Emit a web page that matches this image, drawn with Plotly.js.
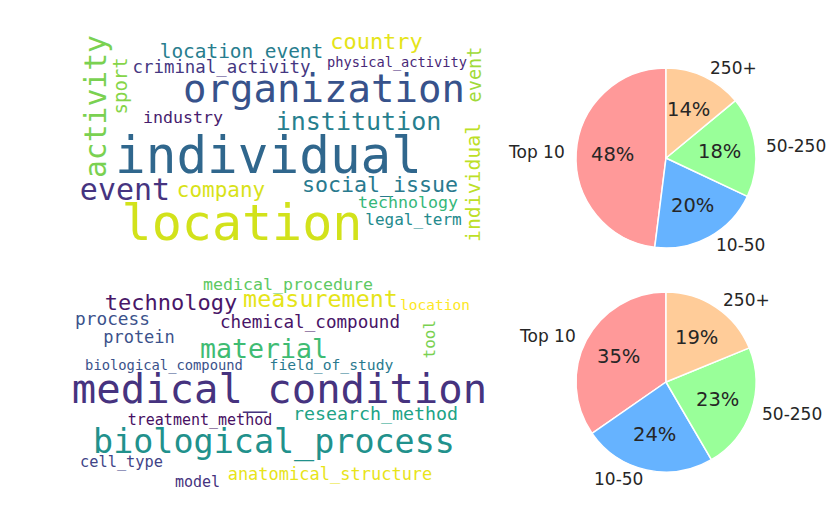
<!DOCTYPE html>
<html>
<head>
<meta charset="utf-8">
<script src="https://cdn.plot.ly/plotly-3.0.1.min.js"></script>
<style>
  html, body { margin: 0; padding: 0; background: #fff; }
  #chart { width: 830px; height: 519px; }
</style>
</head>
<body>
<div id="chart"></div>
<script>
// wordcloud 1 (general entity types), canvas coordinates 424 x 216
const wc1Words = ["individual", "location", "organization", "event", "company", "institution",
  "social_issue", "technology", "legal_term", "country", "location event", "criminal_activity",
  "physical_activity", "industry", "activity", "sport", "individual", "event"];
const wc1X = [200.5, 174, 256, 57, 153, 290.5, 312, 340, 345.5, 308.5, 173.5, 153.5, 329, 115, 28, 51.5, 405.5, 406.5];
const wc1Y = [125, 192.5, 58.4, 159.5, 159.6, 91, 154.4, 172, 189.4, 11.3, 21.2, 37, 32.2, 87.2, 77, 56, 152.5, 45];
const wc1Size = [51, 50, 39, 30, 21, 25, 21.6, 16.6, 16, 22, 19.4, 17.4, 13.7, 16.6, 29.7, 19, 19.8, 18.6];
const wc1Color = ["#30678d", "#d2e21b", "#37528b", "#463480", "#d8e219", "#277f8e", "#297a8e", "#35b779",
  "#238a8d", "#e5e419", "#287d8e", "#453781", "#482878", "#471c6e", "#7ad151", "#86d549", "#bddf26", "#a0da39"];
const wc1Vertical = [0, 0, 0, 0, 0, 0, 0, 0, 0, 0, 0, 0, 0, 0, 1, 1, 1, 1];

// wordcloud 2 (biomedical entity types)
const wc2Words = ["medical_condition", "biological_process", "technology", "measurement", "medical_procedure",
  "location", "process", "chemical_compound", "protein", "material", "biological_compound", "field_of_study",
  "research_method", "treatment_method", "cell_type", "model", "anatomical_structure", "tool"];
const wc2X = [211.5, 206, 103, 252.5, 220, 367, 44.5, 242, 71, 196, 96, 263.5, 307.5, 132, 53.5, 129.5, 262, 360.5];
const wc2Y = [112.8, 165.3, 26.3, 22.8, 8.2, 28.9, 42.8, 45.8, 61, 72.7, 89.2, 88.9, 137.6, 143.8, 185.6, 205.8, 198, 63];
const wc2Size = [40.6, 33.4, 22, 23.4, 16.6, 14.5, 17.8, 17.6, 17, 26.6, 13.8, 14.7, 18.3, 15, 15.3, 15, 17, 16];
const wc2Color = ["#46337f", "#21918c", "#481668", "#e5e419", "#5ec962", "#fde725", "#3b528b", "#481467",
  "#3b528b", "#3fbc73", "#3b528b", "#29798e", "#20a386", "#471063", "#414487", "#46337e", "#e8e419", "#7ad151"];
const wc2Vertical = [0, 0, 0, 0, 0, 0, 0, 0, 0, 0, 0, 0, 0, 0, 0, 0, 0, 1];

// pie charts: share of mentions by rank group
const pieLabels = ["Top 10", "10-50", "50-250", "250+"];
const pie1Values = [48, 20, 18, 14];
const pie2Values = [35, 24, 23, 19];
const pieColors = ["#ff9999", "#66b3ff", "#99ff99", "#ffcc99"];

const W = 830, H = 519;
const wordFont = "DejaVu Sans Mono, monospace";
const pieFont = "DejaVu Sans, sans-serif";

function wordTrace(words, xs, ys, sizes, colors, vertical, xa, ya) {
  const idx = words.map((w, i) => i).filter(i => !vertical[i]);
  return {
    type: "scatter",
    mode: "text",
    x: idx.map(i => xs[i]),
    // plotly centres a bit higher than the glyph box, push down a little
    y: idx.map(i => ys[i] + 0.1 * sizes[i]),
    text: idx.map(i => words[i]),
    textposition: "middle center",
    textfont: {
      family: wordFont,
      size: idx.map(i => sizes[i]),
      color: idx.map(i => colors[i]),
    },
    hoverinfo: "none",
    showlegend: false,
    xaxis: xa,
    yaxis: ya,
  };
}

function verticalWords(words, xs, ys, sizes, colors, vertical, xa, ya) {
  const out = [];
  words.forEach((w, i) => {
    if (!vertical[i]) return;
    out.push({
      x: xs[i], y: ys[i], xref: xa, yref: ya,
      text: w, textangle: -90, showarrow: false,
      xanchor: "center", yanchor: "middle",
      font: { family: wordFont, size: sizes[i], color: colors[i] },
    });
  });
  return out;
}

// pie geometry in pixels (centre and radius)
const pies = [
  { values: pie1Values, cx: 666, cy: 158, r: 90 },
  { values: pie2Values, cx: 666, cy: 382, r: 90 },
];

function pieTrace(p) {
  const total = p.values.reduce((a, b) => a + b, 0);
  return {
    type: "pie",
    labels: pieLabels,
    values: p.values,
    sort: false,
    direction: "counterclockwise",
    // plotly puts the first slice clockwise of 12 o'clock in ccw mode,
    // turn it back so it starts at 12 and runs to the left (matplotlib startangle=90)
    rotation: -p.values[0] / total * 360,
    textinfo: "none",
    hoverinfo: "none",
    marker: { colors: pieColors, line: { color: "#ffffff", width: 1.5 } },
    domain: {
      x: [(p.cx - p.r) / W, (p.cx + p.r) / W],
      y: [1 - (p.cy + p.r) / H, 1 - (p.cy - p.r) / H],
    },
    showlegend: false,
  };
}

// labels like matplotlib: pct at 0.6 r, names at 1.1 r
function pieAnnotations(p) {
  const total = p.values.reduce((a, b) => a + b, 0);
  const out = [];
  let start = 90;
  p.values.forEach((v, i) => {
    const span = v / total * 360;
    const mid = (start + span / 2) * Math.PI / 180;
    start += span;
    const c = Math.cos(mid), s = Math.sin(mid);
    out.push({
      xref: "paper", yref: "paper",
      x: (p.cx + 0.6 * p.r * c) / W, y: 1 - (p.cy - 0.6 * p.r * s) / H,
      text: Math.round(v / total * 100) + "%", showarrow: false,
      xanchor: "center", yanchor: "middle",
      font: { family: pieFont, size: 19.5, color: "#262626" },
    });
    out.push({
      xref: "paper", yref: "paper",
      x: (p.cx + 1.1 * p.r * c) / W, y: 1 - (p.cy - 1.1 * p.r * s) / H,
      text: pieLabels[i], showarrow: false,
      xanchor: c >= 0 ? "left" : "right", yanchor: "middle",
      font: { family: pieFont, size: 17, color: "#262626" },
    });
  });
  return out;
}

const hiddenAxis = (domain, range) => ({
  domain: domain, range: range, visible: false, showgrid: false,
  zeroline: false, fixedrange: true,
});

const data = [
  wordTrace(wc1Words, wc1X, wc1Y, wc1Size, wc1Color, wc1Vertical, "x", "y"),
  wordTrace(wc2Words, wc2X, wc2Y, wc2Size, wc2Color, wc2Vertical, "x2", "y2"),
  pieTrace(pies[0]),
  pieTrace(pies[1]),
];

const layout = {
  width: W,
  height: H,
  margin: { t: 0, r: 0, b: 0, l: 0 },
  paper_bgcolor: "#ffffff",
  plot_bgcolor: "rgba(0,0,0,0)",
  xaxis: hiddenAxis([68 / W, 492 / W], [0, 424]),
  yaxis: hiddenAxis([1 - 246 / H, 1 - 30 / H], [216, 0]),
  xaxis2: hiddenAxis([68 / W, 492 / W], [0, 424]),
  yaxis2: hiddenAxis([1 - 492 / H, 1 - 276 / H], [216, 0]),
  annotations: [
    ...verticalWords(wc1Words, wc1X, wc1Y, wc1Size, wc1Color, wc1Vertical, "x", "y"),
    ...verticalWords(wc2Words, wc2X, wc2Y, wc2Size, wc2Color, wc2Vertical, "x2", "y2"),
    ...pieAnnotations(pies[0]),
    ...pieAnnotations(pies[1]),
  ],
  showlegend: false,
};

Plotly.newPlot("chart", data, layout, { staticPlot: true, displayModeBar: false });
</script>
</body>
</html>
